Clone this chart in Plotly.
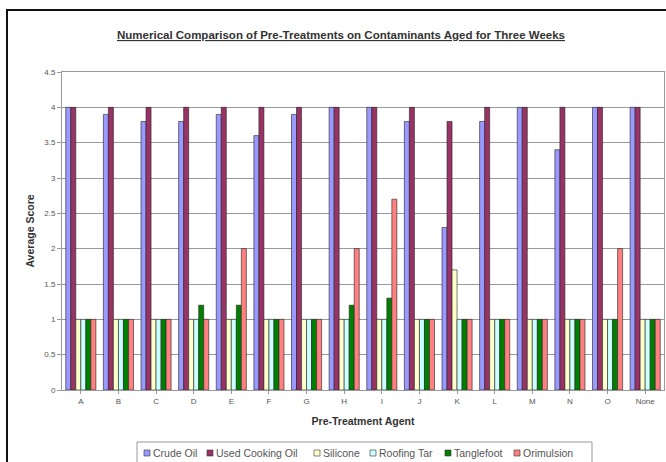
import plotly.graph_objects as go

categories = ["A", "B", "C", "D", "E", "F", "G", "H", "I", "J", "K", "L", "M", "N", "O", "None"]
crude_oil = [4, 3.9, 3.8, 3.8, 3.9, 3.6, 3.9, 4, 4, 3.8, 2.3, 3.8, 4, 3.4, 4, 4]
used_cooking_oil = [4, 4, 4, 4, 4, 4, 4, 4, 4, 4, 3.8, 4, 4, 4, 4, 4]
silicone = [1, 1, 1, 1, 1, 1, 1, 1, 1, 1, 1.7, 1, 1, 1, 1, 1]
roofing_tar = [1, 1, 1, 1, 1, 1, 1, 1, 1, 1, 1, 1, 1, 1, 1, 1]
tanglefoot = [1, 1, 1, 1.2, 1.2, 1, 1, 1.2, 1.3, 1, 1, 1, 1, 1, 1, 1]
orimulsion = [1, 1, 1, 1, 2, 1, 1, 2, 2.7, 1, 1, 1, 1, 1, 2, 1]

series_names = ["Crude Oil", "Used Cooking Oil", "Silicone", "Roofing Tar", "Tanglefoot", "Orimulsion"]
series_values = [crude_oil, used_cooking_oil, silicone, roofing_tar, tanglefoot, orimulsion]
series_colors = ["#9999FF", "#993366", "#FFFFCC", "#CCFFFF", "#008000", "#FF8080"]

W, H = 666, 462
L, R, T, B = 62, 2, 72, 72
PW, PH = W - L - R, H - T - B


def px(x):
    return (x - L) / PW


def py(y):
    return (H - B - y) / PH


fig = go.Figure()
for name, vals, col in zip(series_names, series_values, series_colors):
    fig.add_trace(go.Bar(
        x=categories, y=vals, name=name,
        marker=dict(color=col, line=dict(color="#222222", width=0.6)),
        showlegend=False,
    ))

font = "Liberation Sans, Arial, sans-serif"

shapes = [dict(
    type="rect", xref="paper", yref="paper",
    x0=px(7), x1=1.2, y0=-0.5, y1=py(10),
    line=dict(color="#111111", width=2), fillcolor="rgba(0,0,0,0)", layer="below",
)]
# legend box
shapes.append(dict(
    type="rect", xref="paper", yref="paper",
    x0=px(137), x1=px(592), y0=py(464), y1=py(442),
    line=dict(color="#999999", width=1), fillcolor="white", layer="below",
))
annotations = []
legend_x = [147, 210, 317, 373, 448, 517]
ly = 453
for name, col, xs in zip(series_names, series_colors, legend_x):
    shapes.append(dict(
        type="rect", xref="paper", yref="paper",
        x0=px(xs - 3), x1=px(xs + 3), y0=py(ly + 3), y1=py(ly - 3),
        line=dict(color="#333333", width=0.6), fillcolor=col, layer="above",
    ))
    annotations.append(dict(
        text=name, xref="paper", yref="paper", x=px(xs + 4), y=py(ly),
        xanchor="left", yanchor="middle", showarrow=False,
        font=dict(family=font, size=10.5, color="#555555"),
    ))

fig.update_layout(
    width=W, height=H,
    margin=dict(l=L, r=R, t=T, b=B),
    paper_bgcolor="white", plot_bgcolor="white",
    barmode="group", bargap=0.2, bargroupgap=0,
    font=dict(family=font, size=8, color="#333333"),
    title=dict(
        text="<b><u>Numerical Comparison of Pre-Treatments on Contaminants Aged for Three Weeks</u></b>",
        x=px(341), xref="paper", xanchor="center", y=1 - 35 / H, yanchor="middle",
        font=dict(family=font, size=11.5, color="#333333"),
    ),
    showlegend=False,
    xaxis=dict(
        title=dict(text="<b>Pre-Treatment Agent</b>", font=dict(size=10.5, color="#333333"), standoff=13),
        automargin=False,
        showline=True, linecolor="#999999", mirror=True,
        ticks="outside", ticklen=3, tickcolor="#999999",
        tickfont=dict(size=8, color="#555555"),
    ),
    yaxis=dict(
        title=dict(text="<b>Average Score</b>", font=dict(size=10.5, color="#333333"), standoff=7),
        automargin=False,
        range=[0, 4.5], dtick=0.5, tickformat="~g",
        showgrid=True, gridcolor="#9a9a9a", gridwidth=1,
        showline=True, linecolor="#999999", mirror=True,
        ticks="outside", ticklen=4, tickcolor="#999999",
        tickfont=dict(size=8, color="#555555"), zeroline=False,
    ),
    shapes=shapes,
    annotations=annotations,
)

fig.write_html(
    "out.html",
    config={"displayModeBar": False},
    post_script="document.body.style.margin='0';document.body.style.overflow='hidden';",
)
